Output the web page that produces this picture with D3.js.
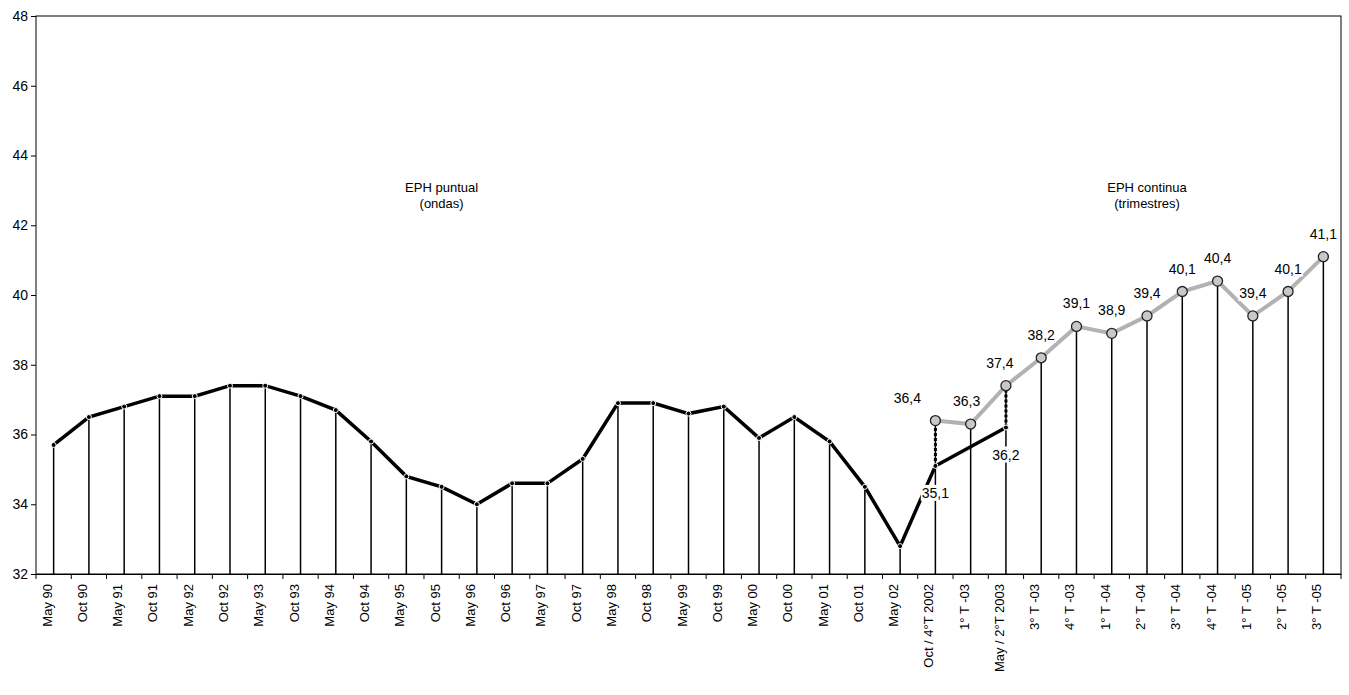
<!DOCTYPE html>
<html><head><meta charset="utf-8">
<script src="https://cdn.jsdelivr.net/npm/d3@7"></script>
<style>body{margin:0;background:#fff}text{font-family:Arial,"Liberation Sans",sans-serif}</style>
</head><body><div id="chart"></div>
<script>
// Categorías del eje X
const categories = ["May 90","Oct 90","May 91","Oct 91","May 92","Oct 92","May 93","Oct 93","May 94","Oct 94",
  "May 95","Oct 95","May 96","Oct 96","May 97","Oct 97","May 98","Oct 98","May 99","Oct 99","May 00","Oct 00",
  "May 01","Oct 01","May 02","Oct / 4°T 2002","1° T -03","May / 2°T 2003","3° T -03","4° T -03","1° T -04",
  "2° T -04","3° T -04","4° T -04","1° T -05","2° T -05","3° T -05"];
// EPH puntual (ondas)
const puntual = [35.7,36.5,36.8,37.1,37.1,37.4,37.4,37.1,36.7,35.8,34.8,34.5,34.0,34.6,34.6,35.3,36.9,36.9,36.6,36.8,
  35.9,36.5,35.8,34.5,32.8,35.1,null,36.2];
// EPH continua (trimestres), desde Oct/4°T 2002
const continua = [36.4,36.3,37.4,38.2,39.1,38.9,39.4,40.1,40.4,39.4,40.1,41.1];
const continuaStart = 25;
const yTicks = [32,34,36,38,40,42,44,46,48];

const W = 1349, H = 695;
const m = {top:16, right:8, bottom:121, left:36};
const iw = W - m.left - m.right, ih = H - m.top - m.bottom;
const svg = d3.select("#chart").append("svg").attr("width", W).attr("height", H);
const g = svg.append("g").attr("transform", `translate(${m.left},${m.top})`);

const x = d3.scaleBand().domain(categories).range([0, iw]);
const cx = c => x(c) + x.bandwidth()/2;
const y = d3.scaleLinear().domain([32,48]).range([ih, 0]);

// marco
g.append("rect").attr("width", iw).attr("height", ih).attr("fill","none").attr("stroke","#000");

// eje Y
const ya = g.append("g").call(d3.axisLeft(y).tickValues(yTicks).tickSize(5).tickFormat(d3.format("d")));
ya.selectAll("text").attr("font-size",14).attr("fill","#000");
ya.select(".domain").remove();

// eje X con marcas entre categorías
const xa = g.append("g").attr("transform",`translate(0,${ih})`).call(d3.axisBottom(x).tickSize(0));
xa.select(".domain").attr("stroke","#000");
xa.selectAll(".tick text").attr("font-size",13).attr("fill","#000")
  .attr("transform","rotate(-90)").attr("text-anchor","end").attr("dx",-10).attr("dy",-5);
g.selectAll(".sep").data(categories.concat([null])).join("line")
  .attr("x1",(d,i)=>i*x.bandwidth()).attr("x2",(d,i)=>i*x.bandwidth())
  .attr("y1",ih).attr("y2",ih+5).attr("stroke","#000");

// datos combinados para líneas verticales
const cont = continua.map((v,i)=>({c:categories[continuaStart+i], v}));
const punt = puntual.map((v,i)=>({c:categories[i], v})).filter(d=>d.v!==null);
const drops = categories.map((c,i)=>{
  const ci = i - continuaStart;
  const v = (ci>=0 && ci<continua.length) ? continua[ci] : puntual[i];
  return {c, v};
});
g.selectAll(".drop").data(drops).join("line")
  .attr("x1",d=>cx(d.c)).attr("x2",d=>cx(d.c))
  .attr("y1",d=>y(d.v)).attr("y2",ih).attr("stroke","#000").attr("stroke-width",1.5);

// conectores punteados
[[25,0],[27,2]].forEach(([pi,ci])=>{
  g.append("line").attr("x1",cx(categories[pi])).attr("x2",cx(categories[pi]))
    .attr("y1",y(puntual[pi])).attr("y2",y(continua[ci]))
    .attr("stroke","#000").attr("stroke-width",3).attr("stroke-dasharray","3,2");
});

// serie continua (gris)
g.append("path").datum(cont).attr("fill","none").attr("stroke","#b2b2b2").attr("stroke-width",4)
  .attr("d", d3.line().x(d=>cx(d.c)).y(d=>y(d.v)));

// serie puntual (negra)
g.append("path").datum(punt).attr("fill","none").attr("stroke","#000").attr("stroke-width",3.5)
  .attr("d", d3.line().x(d=>cx(d.c)).y(d=>y(d.v)));
g.selectAll(".pdot").data(punt).join("circle").attr("cx",d=>cx(d.c)).attr("cy",d=>y(d.v))
  .attr("r",2.5).attr("fill","#000").attr("stroke","#fff").attr("stroke-width",1);

g.selectAll(".cdot").data(cont).join("circle").attr("cx",d=>cx(d.c)).attr("cy",d=>y(d.v))
  .attr("r",5).attr("fill","#c8c8c8").attr("stroke","#222").attr("stroke-width",1.3);

// etiquetas con fondo blanco
const fmt = v => v.toFixed(1).replace(".",",");
function label(xp, yp, t){
  const tx = g.append("text").attr("x",xp).attr("y",yp).attr("text-anchor","middle")
    .attr("font-size",14).attr("fill","#000").text(t);
  const b = tx.node().getBBox();
  g.insert("rect", () => tx.node()).attr("x",b.x-1).attr("y",b.y).attr("width",b.width+2).attr("height",b.height).attr("fill","#fff");
}
cont.forEach((d,i)=>{
  let dx = 0;
  if (i===0) dx = -28; else if (i===1) dx = -4; else if (i===2) dx = -6;
  label(cx(d.c)+dx, y(d.v)-18, fmt(d.v));
});
label(cx(categories[25]), y(35.1)+32, fmt(35.1));
label(cx(categories[27]), y(36.2)+32, fmt(36.2));

// títulos de los tramos
[["EPH puntual","(ondas)",cx(categories[11])],["EPH continua","(trimestres)",cx(categories[31])]].forEach(([a,b,xp])=>{
  g.append("text").attr("x",xp).attr("y",y(43)+2).attr("text-anchor","middle").attr("font-size",13).text(a);
  g.append("text").attr("x",xp).attr("y",y(43)+18).attr("text-anchor","middle").attr("font-size",13).text(b);
});
</script></body></html>
